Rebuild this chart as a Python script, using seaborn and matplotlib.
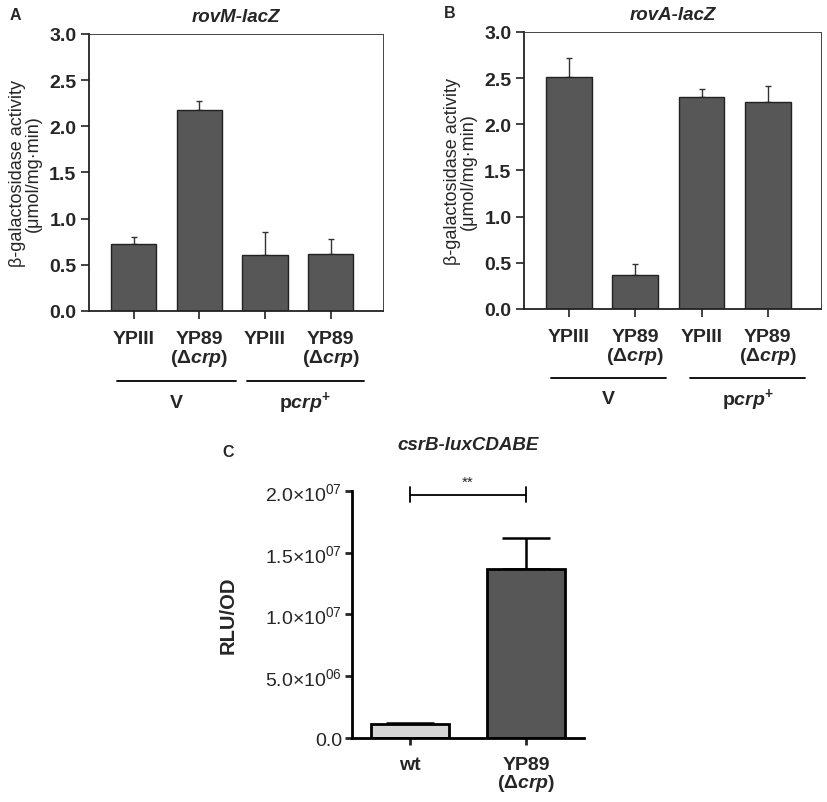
import matplotlib
matplotlib.use("Agg")
import matplotlib.pyplot as plt
import numpy as np
import seaborn as sns

# ---- data -------------------------------------------------------------
strain_labels = ["YPIII", "YP89\n(Δ$\\it{crp}$)", "YPIII", "YP89\n(Δ$\\it{crp}$)"]
group_labels = ["V", "p$\\it{crp}$$^{\\bf{+}}$"]

rovM_mean = [0.73, 2.18, 0.61, 0.62]
rovM_sd = [0.07, 0.09, 0.24, 0.16]

rovA_mean = [2.51, 0.37, 2.30, 2.24]
rovA_sd = [0.21, 0.12, 0.08, 0.17]

csrB_labels = ["wt", "YP89\n(Δ$\\it{crp}$)"]
csrB_mean = [1.13e6, 1.366e7]
csrB_sd = [0.06e6, 2.55e6]
csrB_ticks = [0, 5e6, 1e7, 1.5e7, 2e7]
csrB_ticklabels = ["0.0", "5.0×10$^{06}$", "1.0×10$^{07}$", "1.5×10$^{07}$", "2.0×10$^{07}$"]

DARK = "#575757"
LIGHT = "#d6d6d6"

sns.set_style("ticks")
plt.rcParams["font.family"] = ["Liberation Sans", "DejaVu Sans"]
plt.rcParams["mathtext.fontset"] = "custom"
plt.rcParams["mathtext.rm"] = "Liberation Sans"
plt.rcParams["mathtext.it"] = "Liberation Sans:italic:bold"
plt.rcParams["mathtext.bf"] = "Liberation Sans:bold"

fig = plt.figure(figsize=(8.27, 8.03), dpi=100)
axA = fig.add_axes([0.1076, 0.6115, 0.356, 0.345])
axB = fig.add_axes([0.6336, 0.614, 0.359, 0.345])
axC = fig.add_axes([0.4256, 0.0797, 0.2805, 0.3076])

TICK_FS = 14


def lacz_panel(ax, means, sds, title, letter, spans, line_y, label_y):
    pos = np.arange(len(means))
    sns.barplot(x=pos, y=means, ax=ax, color=DARK, saturation=1,
                edgecolor="#222222", linewidth=1.0, width=0.69, zorder=2)
    ax.errorbar(pos, means, yerr=[np.zeros(len(sds)), sds], fmt="none",
                ecolor="#333333", elinewidth=1.0, capsize=2.5, capthick=1.0, zorder=1)
    ax.set_xlim(-0.68, 3.8)
    ax.set_ylim(0, 3.0)
    ax.set_yticks(np.arange(0, 3.01, 0.5))
    ax.set_yticklabels([f"{v:.1f}" for v in np.arange(0, 3.01, 0.5)],
                       fontweight="bold", fontsize=TICK_FS)
    ax.set_xticks(pos)
    ax.set_xticklabels(strain_labels, fontweight="bold", fontsize=TICK_FS,
                       linespacing=0.95, va="top")
    ax.tick_params(axis="both", direction="out", length=6, width=1.2, color="#222222")
    ax.tick_params(axis="y", pad=3)
    ax.tick_params(axis="x", pad=8)
    for s in ["left", "bottom"]:
        ax.spines[s].set_linewidth(1.3)
        ax.spines[s].set_color("#222222")
    for s in ["top", "right"]:
        ax.spines[s].set_linewidth(0.7)
        ax.spines[s].set_color("#444444")
    ax.set_ylabel("β-galactosidase activity\n(μmol/mg·min)", fontsize=13,
                  linespacing=0.95, labelpad=5)
    ax.set_title(title, fontsize=13.5, fontweight="bold", fontstyle="italic", pad=9)
    ax.text(-0.27, 1.07, letter, transform=ax.transAxes, fontsize=11.5,
            fontweight="bold", va="center")
    tr = ax.get_xaxis_transform()
    for (x0, x1), lab in zip(spans, group_labels):
        ax.plot([x0, x1], [line_y, line_y], color="black", lw=1.3,
                transform=tr, clip_on=False)
        ax.text((x0 + x1) / 2, label_y, lab, transform=tr, ha="center",
                va="center", fontsize=TICK_FS, fontweight="bold")


lacz_panel(axA, rovM_mean, rovM_sd, "rovM-lacZ", "A",
           [(-0.25, 1.55), (1.72, 3.5)], -0.253, -0.33)
lacz_panel(axB, rovA_mean, rovA_sd, "rovA-lacZ", "B",
           [(-0.27, 1.46), (1.83, 3.56)], -0.25, -0.325)

# ---- panel C ---------------------------------------------------------
posC = np.arange(len(csrB_mean))
sns.barplot(x=posC, y=csrB_mean, ax=axC, palette=[LIGHT, DARK], hue=posC,
            legend=False, saturation=1, edgecolor="black", linewidth=2.0,
            width=0.67, zorder=2)
axC.errorbar(posC, csrB_mean, yerr=[np.zeros(2), csrB_sd], fmt="none",
             ecolor="black", elinewidth=1.8, capsize=17, capthick=1.8, zorder=1)
axC.set_xlim(-0.5, 1.5)
axC.set_ylim(0, 2e7)
axC.set_yticks(csrB_ticks)
axC.set_yticklabels(csrB_ticklabels, fontsize=14)
axC.set_xticks(posC)
axC.set_xticklabels(csrB_labels, fontweight="bold", fontsize=TICK_FS, linespacing=0.95)
axC.tick_params(axis="both", direction="out", length=5, width=2)
axC.tick_params(axis="y", pad=2)
axC.tick_params(axis="x", pad=8)
sns.despine(ax=axC)
for s in ["left", "bottom"]:
    axC.spines[s].set_linewidth(2)
    axC.spines[s].set_color("black")
axC.set_ylabel("RLU/OD", fontsize=14.5, fontweight="bold", labelpad=20)
axC.set_title("csrB-luxCDABE", fontsize=13.5, fontweight="bold",
              fontstyle="italic", pad=30)
axC.text(-0.56, 1.16, "C", transform=axC.transAxes, fontsize=11.5,
         fontweight="bold", va="center")

# significance bracket
yb, tip = 1.97e7, 0.06e7
axC.plot([0, 1], [yb, yb], color="black", lw=1.3, clip_on=False)
for xb in [0, 1]:
    axC.plot([xb, xb], [yb - tip, yb + tip], color="black", lw=1.3, clip_on=False)
axC.text(0.5, yb + 0.05e7, "**", ha="center", va="bottom", fontsize=11)

fig.savefig("out.png", dpi=100)
